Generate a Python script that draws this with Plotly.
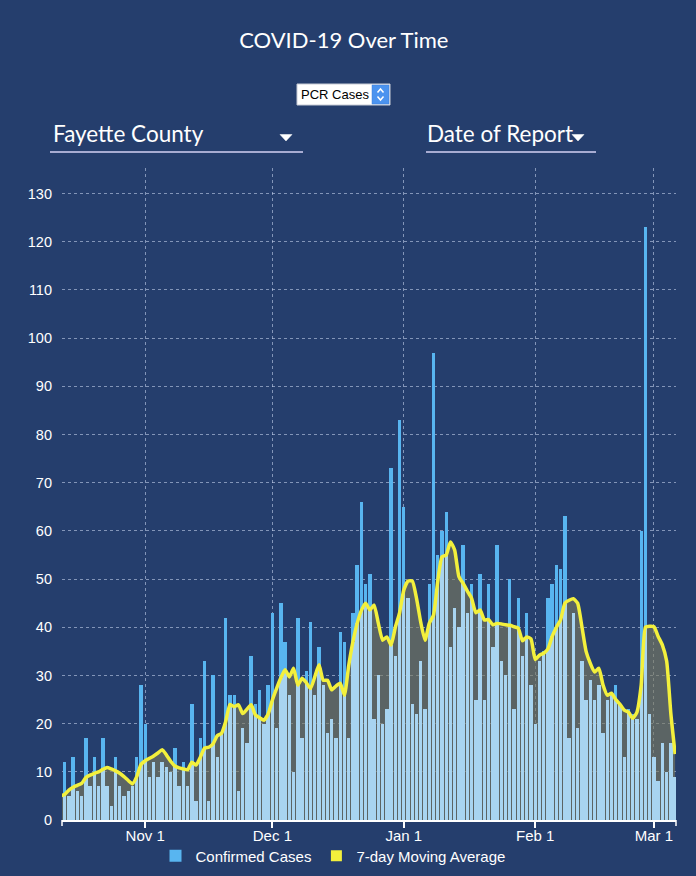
import pandas as pd
import plotly.graph_objects as go

# ---------------- data ----------------
start_date = "2020-10-12"

confirmed_cases = [
    5, 12, 5, 13, 6, 5, 17, 7, 13, 7,
    17, 7, 3, 13, 7, 5, 6, 7, 13, 28,
    20, 9, 12, 9, 12, 11, 10, 15, 7, 12,
    7, 24, 4, 17, 33, 4, 30, 13, 18, 42,
    26, 26, 6, 19, 16, 34, 24, 27, 20, 28,
    43, 19, 45, 37, 26, 10, 42, 17, 31, 41,
    26, 36, 28, 18, 21, 17, 39, 37, 17, 43,
    53, 66, 49, 51, 21, 30, 20, 23, 73, 34,
    83, 65, 46, 24, 22, 33, 23, 49, 97, 55,
    60, 64, 36, 44, 40, 57, 43, 49, 25, 51,
    25, 49, 36, 57, 33, 30, 50, 23, 46, 34,
    43, 28, 20, 33, 35, 46, 49, 53, 52, 63,
    17, 43, 19, 33, 25, 29, 25, 28, 18, 25,
    26, 28, 24, 13, 23, 22, 21, 60, 123, 22,
    13, 8, 16, 10, 16, 9,
]

moving_average = [
    5.0, 5.3, 6.2, 6.8, 7.2, 7.6, 8.8, 9.3, 9.7, 10.0,
    10.5, 10.9, 10.6, 10.2, 9.7, 9.0, 8.2, 7.5, 9.0, 11.5,
    12.3, 12.8, 13.3, 13.9, 14.6, 13.5, 12.2, 11.2, 10.8, 10.6,
    10.4, 12.0, 11.4, 13.0, 14.9, 15.1, 15.8, 17.5, 18.0, 20.5,
    24.0, 23.5, 23.9, 22.1, 23.0, 23.9, 21.8, 21.2, 20.7, 22.0,
    24.9, 27.3, 29.5, 31.2, 29.7, 31.5, 28.0, 29.4, 28.5, 27.3,
    29.7, 32.2, 29.0, 29.0, 27.0, 27.8, 28.4, 25.9, 32.0, 37.0,
    40.8, 43.5, 45.0, 43.6, 44.6, 40.8, 37.3, 38.0, 36.3, 40.0,
    43.0, 47.7, 49.6, 49.6, 46.0, 41.0, 37.3, 40.8, 42.5, 49.5,
    54.6, 55.0, 57.7, 56.0, 50.5, 49.1, 47.5, 46.0, 43.0, 43.6,
    41.5, 41.6, 40.5, 40.8, 40.7, 40.5, 40.4, 40.1, 39.8, 37.2,
    38.0, 37.6, 33.3, 34.2, 34.6, 35.5, 38.1, 40.0, 41.6, 45.0,
    45.6, 45.9, 45.0, 40.2, 35.0, 32.5, 30.7, 31.5, 28.0, 25.9,
    26.3, 25.0, 24.0, 22.8, 22.4, 21.1, 22.4, 28.0, 40.0, 40.2,
    40.1, 38.1, 36.3, 33.0, 22.0, 13.7,
]

y_tick_values = list(range(0, 131, 10))
month_tick_values = ["2020-11-01", "2020-12-01", "2021-01-01", "2021-02-01", "2021-03-01"]
month_tick_labels = ["Nov 1", "Dec 1", "Jan 1", "Feb 1", "Mar 1"]

dates = pd.date_range(start_date, periods=len(confirmed_cases), freq="D")
# part of each bar lying under the moving-average curve (drawn lighter)
under_average = [min(c, m) for c, m in zip(confirmed_cases, moving_average)]

# ---------------- style ----------------
NAVY = "#253e6d"
BRIGHT = "#58b5f0"
PALE = "#a8d4f0"
FILL = "rgba(125,125,95,0.62)"
YELLOW = "#f3f03c"
GRID = "rgba(195,208,235,0.6)"
SANS = "Liberation Sans, Arial, sans-serif"
DAY_MS = 86400000
X_RANGE = ["2020-10-12 09:00", "2021-03-06 05:00"]
Y_RANGE = [0, 135.3]

W, H = 696, 876
PL, PR, PT, PB = 62, 676, 168, 820


def px(xp):
    return (xp - PL) / (PR - PL)


def py(yp):
    return (PB - yp) / (PB - PT)


def polyline(points, close=False):
    s = "M " + " L ".join(f"{px(a):.5f},{py(b):.5f}" for a, b in points)
    return s + (" Z" if close else "")


fig = go.Figure()

# subplot 1: full bars + grey area under the average
fig.add_trace(go.Bar(
    x=dates, y=confirmed_cases, width=0.8 * DAY_MS,
    marker=dict(color=BRIGHT, line=dict(width=0)),
    name="Confirmed Cases", showlegend=True, xaxis="x", yaxis="y",
    hovertemplate="%{x|%b %-d}: %{y}<extra></extra>",
))
fig.add_trace(go.Scatter(
    x=dates, y=moving_average, mode="lines", fill="tozeroy", fillcolor=FILL,
    line=dict(width=0, shape="spline", smoothing=0.5),
    showlegend=False, hoverinfo="skip", xaxis="x", yaxis="y",
))

# subplot 2 (overlay): light bar portions under the curve + yellow line
fig.add_trace(go.Bar(
    x=dates, y=under_average, width=0.8 * DAY_MS,
    marker=dict(color=PALE, line=dict(width=0)),
    showlegend=False, hoverinfo="skip", xaxis="x2", yaxis="y2",
))
fig.add_trace(go.Scatter(
    x=dates, y=moving_average, mode="lines",
    line=dict(color=YELLOW, width=3.5, shape="spline", smoothing=0.5),
    showlegend=False, xaxis="x2", yaxis="y2",
    hovertemplate="%{x|%b %-d}: %{y:.1f}<extra></extra>",
))
fig.add_trace(go.Scatter(
    x=[None], y=[None], mode="markers",
    marker=dict(symbol="square", size=11, color=YELLOW),
    name="7-day Moving Average", xaxis="x2", yaxis="y2",
))

axis_common = dict(zeroline=False, fixedrange=True)
fig.update_layout(
    width=W, height=H, autosize=False,
    paper_bgcolor=NAVY, plot_bgcolor=NAVY,
    margin=dict(l=PL, r=W - PR, t=PT, b=H - PB, pad=0, autoexpand=False),
    barmode="overlay", bargap=0,
    title=dict(text="COVID-19 Over Time", x=0.494, xanchor="center", xref="container",
               y=1 - 40 / H, yanchor="middle", yref="container",
               font=dict(family="Lato, sans-serif", size=22, color="white")),
    xaxis=dict(type="date", range=X_RANGE, tickvals=month_tick_values, ticktext=month_tick_labels,
               showgrid=True, gridcolor=GRID, griddash="dot", gridwidth=1,
               showline=True, linecolor="white", linewidth=1.5,
               ticks="outside", ticklen=6, tickwidth=1.5, tickcolor="white",
               ticklabelstandoff=-5,
               tickfont=dict(family=SANS, size=15, color="white"), **axis_common),
    yaxis=dict(range=Y_RANGE, tickvals=y_tick_values, showgrid=True, gridcolor=GRID,
               griddash="dot", gridwidth=1, showline=False, ticks="",
               ticklabelstandoff=9, tickfont=dict(family=SANS, size=14.5, color="white"),
               **axis_common),
    xaxis2=dict(type="date", range=X_RANGE, overlaying="x", anchor="y2", visible=False, **axis_common),
    yaxis2=dict(range=Y_RANGE, overlaying="y", anchor="x2", visible=False, **axis_common),
    legend=dict(orientation="h", xref="container", x=333 / W, xanchor="center",
                yref="container", y=1 - 856 / H, yanchor="middle",
                font=dict(family=SANS, size=15, color="white"),
                bgcolor="rgba(0,0,0,0)", itemwidth=30, traceorder="normal"),
)

shapes = []
# outer ticks at both ends of the x axis
for xe in (0, 1):
    shapes.append(dict(type="line", xref="paper", yref="paper", ysizemode="pixel", yanchor=0,
                       x0=xe, x1=xe, y0=0, y1=-6, line=dict(color="white", width=1.5)))
# "PCR Cases" select box
shapes.append(dict(type="rect", xref="paper", yref="paper", x0=px(297), x1=px(390), y0=py(105), y1=py(84),
                   fillcolor="white", line=dict(color="#c8ccd6", width=1)))
shapes.append(dict(type="rect", xref="paper", yref="paper", x0=px(372), x1=px(389), y0=py(104), y1=py(85),
                   fillcolor="#4b93ef", line=dict(color="#3f7fd6", width=0.5)))
shapes.append(dict(type="path", xref="paper", yref="paper",
                   path=polyline([(377.5, 92.5), (380.5, 89), (383.5, 92.5)]),
                   line=dict(color="white", width=1.5)))
shapes.append(dict(type="path", xref="paper", yref="paper",
                   path=polyline([(377.5, 96.5), (380.5, 100), (383.5, 96.5)]),
                   line=dict(color="white", width=1.5)))
# dropdown underlines and arrows
shapes.append(dict(type="line", xref="paper", yref="paper", x0=px(50), x1=px(303), y0=py(152), y1=py(152),
                   line=dict(color="#d4d2f5", width=1.5)))
shapes.append(dict(type="line", xref="paper", yref="paper", x0=px(426), x1=px(596), y0=py(152), y1=py(152),
                   line=dict(color="#d4d2f5", width=1.5)))
shapes.append(dict(type="path", xref="paper", yref="paper",
                   path=polyline([(280, 134.5), (292, 134.5), (286, 141)], close=True),
                   fillcolor="white", line=dict(color="white", width=0.5)))
shapes.append(dict(type="path", xref="paper", yref="paper",
                   path=polyline([(572, 134.5), (584, 134.5), (578, 141)], close=True),
                   fillcolor="white", line=dict(color="white", width=0.5)))
fig.update_layout(shapes=shapes)

annotations = [
    dict(text="PCR Cases", x=px(299), y=py(94.5), xanchor="left", yanchor="middle",
         font=dict(family=SANS, size=13, color="black")),
    dict(text="Fayette County", x=px(51), y=py(133), xanchor="left", yanchor="middle",
         font=dict(family="Lato, sans-serif", size=22.5, color="white")),
    dict(text="Date of Report", x=px(425), y=py(133), xanchor="left", yanchor="middle",
         font=dict(family="Lato, sans-serif", size=22.5, color="white")),
]
for a in annotations:
    a.update(xref="paper", yref="paper", showarrow=False)
fig.update_layout(annotations=annotations)

fig.write_html(
    "out.html",
    config={"displayModeBar": False, "responsive": False},
    post_script=(
        "document.documentElement.style.margin='0';"
        "document.body.style.margin='0';"
        "document.body.style.background='" + NAVY + "';"
        "document.body.style.overflow='hidden';"
    ),
)
